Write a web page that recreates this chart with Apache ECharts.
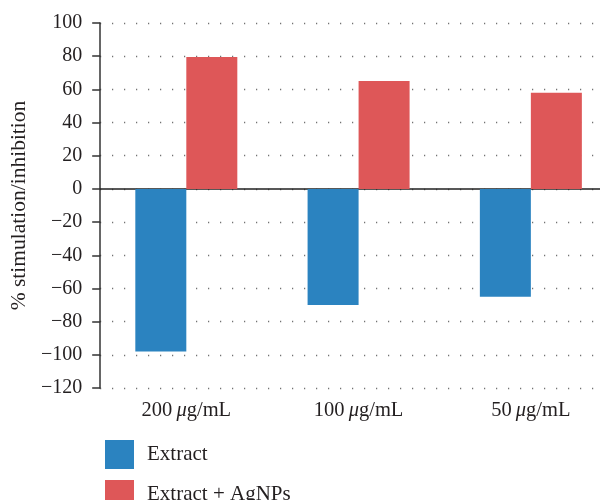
<!DOCTYPE html>
<html>
<head>
<meta charset="utf-8">
<script src="https://cdn.jsdelivr.net/npm/echarts@6/dist/echarts.min.js"></script>
<style>html,body{margin:0;padding:0;background:#fff;overflow:hidden;width:600px;height:500px;}#c{width:617px;height:500px;}</style>
</head>
<body>
<div id="c"></div>
<script>
const categories = ['200', '100', '50'];
const categoryUnit = 'g/mL';
const extractValues = [-98, -70, -65];
const agnpValues = [79.5, 65, 58];
const seriesNames = ['Extract', 'Extract + AgNPs'];
const yTicks = { min: -120, max: 100, interval: 20 };
const yAxisTitle = '% stimulation/inhibition';

const FONT = 'Liberation Serif';
const TXT = '#231f20';
const legendBase = {
  orient: 'vertical', left: 100,
  itemWidth: 29, itemHeight: 29,
  icon: 'rect',
  textStyle: { fontFamily: FONT, fontSize: 21, color: TXT, padding: [0, 0, 0, 8] }
};
const chart = echarts.init(document.getElementById('c'));
chart.setOption({
  animation: false,
  textStyle: { fontFamily: FONT },
  grid: { left: 100, top: 23, right: 0, bottom: 112, containLabel: false },
  legend: [
    Object.assign({}, legendBase, { top: 435, data: [seriesNames[0]] }),
    Object.assign({}, legendBase, { top: 475, data: [seriesNames[1]] })
  ],
  xAxis: [{
    type: 'category',
    data: categories,
    position: 'bottom',
    axisLine: { show: false, onZero: false },
    axisTick: { show: false },
    axisLabel: {
      margin: 12,
      formatter: v => '{n|' + v + '\u2009}{u|\u03bc}{n|' + categoryUnit + '}',
      rich: {
        n: { fontFamily: FONT, fontSize: 20.5, color: TXT },
        u: { fontFamily: FONT, fontSize: 20.5, color: TXT, fontStyle: 'italic' }
      }
    }
  }, {
    type: 'category',
    data: categories,
    axisLine: { show: true, onZero: true, lineStyle: { color: '#222', width: 1.5 } },
    axisTick: { show: false },
    axisLabel: { show: false },
    splitLine: { show: false }
  }],
  yAxis: {
    type: 'value',
    min: yTicks.min, max: yTicks.max, interval: yTicks.interval,
    name: yAxisTitle,
    nameLocation: 'middle',
    nameGap: 70,
    nameTextStyle: { fontFamily: FONT, fontSize: 21.5, color: TXT },
    axisLine: { show: true, lineStyle: { color: '#333', width: 1.5 } },
    axisTick: { show: true, length: 8, lineStyle: { color: '#333', width: 1.5 } },
    axisLabel: {
      margin: 18, fontFamily: FONT, fontSize: 20, color: TXT,
      formatter: v => (v < 0 ? '\u2212' + Math.abs(v) : String(v))
    },
    splitLine: { show: true, lineStyle: { color: '#555', width: 1.3, type: [1, 11] } }
  },
  series: [{
    name: seriesNames[0], type: 'bar', data: extractValues,
    barWidth: 51, barGap: '0%',
    itemStyle: { color: '#2b83c0' }
  }, {
    name: seriesNames[1], type: 'bar', data: agnpValues,
    barWidth: 51, barGap: '0%',
    itemStyle: { color: '#de5758' }
  }]
});
</script>
</body>
</html>
